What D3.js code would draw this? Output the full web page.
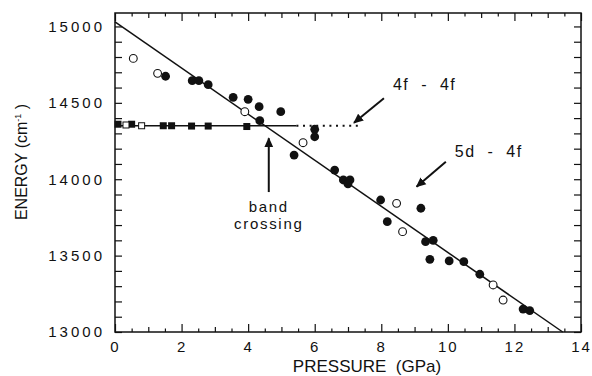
<!DOCTYPE html>
<html>
<head>
<meta charset="utf-8">
<script src="https://cdn.jsdelivr.net/npm/d3@7"></script>
<style>
  body { margin: 0; background: #fff; }
  svg text { font-family: "Liberation Sans", Arial, sans-serif; fill: #111; }
</style>
</head>
<body>
<div id="chart"></div>
<script>
// filled circles (5d - 4f)
const filledP = [1.52, 2.32, 2.52, 2.80, 3.55, 4.00, 4.33, 4.35, 4.98, 6.00, 6.00, 5.38, 6.60, 6.86, 7.06, 7.00, 7.98, 9.19, 8.18, 9.33, 9.56, 9.46, 10.04, 10.48, 10.96, 12.26, 12.46];
const filledE = [14674, 14645, 14645, 14619, 14536, 14523, 14475, 14383, 14442, 14327, 14278, 14158, 14060, 13995, 13995, 13969, 13864, 13810, 13722, 13591, 13600, 13476, 13465, 13460, 13378, 13150, 13140];
// open circles
const openP = [0.55, 1.28, 3.90, 5.65, 8.46, 8.64, 11.36, 11.66];
const openE = [14791, 14693, 14442, 14239, 13842, 13657, 13308, 13209];
// squares (4f - 4f)
const sqFilledP = [0.09, 0.50, 1.45, 1.70, 2.30, 2.80, 3.96];
const sqFilledE = [14360, 14360, 14350, 14350, 14348, 14348, 14345];
const sqOpenP = [0.33, 0.80];
const sqOpenE = [14355, 14350];
// fitted lines
const fitP = [0, 13.45];
const fitE = [15030, 13000];
const flatP = [0, 5.45];
const flatE = [14350, 14350];
const dotP = [5.45, 7.36];
const dotE = [14350, 14350];
// tick labels
const xTicks = [0, 2, 4, 6, 8, 10, 12, 14];
const yTicks = [13000, 13500, 14000, 14500, 15000];

const W = 592, H = 376;
const mLeft = 115, mRight = 581, mTop = 13, mBottom = 332;

const svg = d3.select("#chart").append("svg")
  .attr("width", W).attr("height", H);

const x = d3.scaleLinear().domain([0, 14]).range([mLeft, mRight]);
const y = d3.scaleLinear().domain([13000, 15088]).range([mBottom, mTop]);

// axes
const xMinor = d3.range(0, 14.01, 0.5);
const yMinor = d3.range(13000, 15001, 100);
const xLen = d => (d % 2 === 0 ? 8 : (d % 1 === 0 ? 5 : 3.5));

const gB = svg.append("g").attr("transform", `translate(0,${mBottom})`)
  .call(d3.axisBottom(x).tickValues(xMinor).tickSize(-8).tickPadding(9)
    .tickFormat(d => xTicks.includes(d) ? d : ""));
gB.selectAll(".tick line").attr("y2", d => -xLen(d));

const gT = svg.append("g").attr("transform", `translate(0,${mTop})`)
  .call(d3.axisTop(x).tickValues(xMinor).tickSize(-8).tickFormat(""));
gT.selectAll(".tick line").attr("y2", d => xLen(d));

const gL = svg.append("g").attr("transform", `translate(${mLeft},0)`)
  .call(d3.axisLeft(y).tickValues(yMinor).tickSize(-7).tickPadding(10)
    .tickFormat(d => yTicks.includes(d) ? d : ""));

const gR = svg.append("g").attr("transform", `translate(${mRight},0)`)
  .call(d3.axisRight(y).tickValues(yMinor).tickSize(-7).tickFormat(""));

[gB, gT, gL, gR].forEach(g => {
  g.select(".domain").remove();
  g.selectAll(".tick line").attr("stroke", "#111").attr("stroke-width", 1.2);
});
gB.selectAll(".tick text").style("font-size", "15px").style("letter-spacing", "2px");
gL.selectAll(".tick text").style("font-size", "15px").style("letter-spacing", "3px");

svg.append("rect")
  .attr("x", mLeft).attr("y", mTop)
  .attr("width", mRight - mLeft).attr("height", mBottom - mTop)
  .attr("fill", "none").attr("stroke", "#111").attr("stroke-width", 1.5);

// axis titles
svg.append("text")
  .attr("x", 367).attr("y", 372)
  .attr("text-anchor", "middle")
  .style("font-size", "17px").style("white-space", "pre")
  .text("PRESSURE  (GPa)");

const yt = svg.append("text")
  .attr("transform", "translate(27,162) rotate(-90)")
  .attr("text-anchor", "middle")
  .style("font-size", "16px");
yt.append("tspan").text("ENERGY (cm");
yt.append("tspan").attr("dy", -6).style("font-size", "9px").text("-1");
yt.append("tspan").attr("dy", 6).text(" )");

// lines
const line = d3.line().x(d => x(d[0])).y(d => y(d[1]));
const plot = svg.append("g");

plot.append("path").datum(d3.zip(fitP, fitE))
  .attr("d", line).attr("fill", "none").attr("stroke", "#111").attr("stroke-width", 1.5);
plot.append("path").datum(d3.zip(flatP, flatE))
  .attr("d", line).attr("fill", "none").attr("stroke", "#111").attr("stroke-width", 1.5);
plot.append("path").datum(d3.zip(dotP, dotE))
  .attr("d", line).attr("fill", "none").attr("stroke", "#111").attr("stroke-width", 2)
  .attr("stroke-dasharray", "2,4.6");

// squares
const sq = 7;
plot.selectAll(".sqf").data(d3.zip(sqFilledP, sqFilledE)).enter().append("rect")
  .attr("x", d => x(d[0]) - sq / 2).attr("y", d => y(d[1]) - sq / 2)
  .attr("width", sq).attr("height", sq).attr("fill", "#111");
plot.selectAll(".sqo").data(d3.zip(sqOpenP, sqOpenE)).enter().append("rect")
  .attr("x", d => x(d[0]) - sq / 2 + 0.5).attr("y", d => y(d[1]) - sq / 2 + 0.5)
  .attr("width", sq - 1).attr("height", sq - 1)
  .attr("fill", "#fff").attr("stroke", "#111").attr("stroke-width", 1);

// circles
plot.selectAll(".cf").data(d3.zip(filledP, filledE)).enter().append("circle")
  .attr("cx", d => x(d[0])).attr("cy", d => y(d[1])).attr("r", 4.4).attr("fill", "#111");
plot.selectAll(".co").data(d3.zip(openP, openE)).enter().append("circle")
  .attr("cx", d => x(d[0])).attr("cy", d => y(d[1])).attr("r", 3.9)
  .attr("fill", "#fff").attr("stroke", "#111").attr("stroke-width", 1.1);

// annotations
svg.append("defs").append("marker")
  .attr("id", "head").attr("viewBox", "0 0 10 10")
  .attr("refX", 9).attr("refY", 5)
  .attr("markerWidth", 5).attr("markerHeight", 5)
  .attr("markerUnits", "strokeWidth")
  .attr("orient", "auto")
  .append("path").attr("d", "M0,0.5 L10,5 L0,9.5 Z").attr("fill", "#111");

const arrows = [
  [[8.08, 14530], [7.18, 14369]],
  [[9.94, 14115], [9.06, 13951]],
  [[4.62, 13916], [4.62, 14268]]
];
svg.selectAll(".arrow").data(arrows).enter().append("line")
  .attr("x1", d => x(d[0][0])).attr("y1", d => y(d[0][1]))
  .attr("x2", d => x(d[1][0])).attr("y2", d => y(d[1][1]))
  .attr("stroke", "#111").attr("stroke-width", 2)
  .attr("marker-end", "url(#head)");

const note = (p, e, txt, anchor) => svg.append("text")
  .attr("x", x(p)).attr("y", y(e))
  .attr("text-anchor", anchor)
  .style("font-size", "16px").style("letter-spacing", "1.5px").style("white-space", "pre")
  .text(txt);
note(8.35, 14584, "4f  -  4f", "start");
note(10.21, 14148, "5d  -  4f", "start");

// "band crossing" as one two-line text
const bc = svg.append("text")
  .attr("text-anchor", "middle")
  .style("font-size", "15px").style("letter-spacing", "1.7px");
bc.append("tspan").attr("x", x(4.62)).attr("y", y(13785)).text("band");
bc.append("tspan").attr("x", x(4.62)).attr("dy", 17).text("crossing");
</script>
</body>
</html>
